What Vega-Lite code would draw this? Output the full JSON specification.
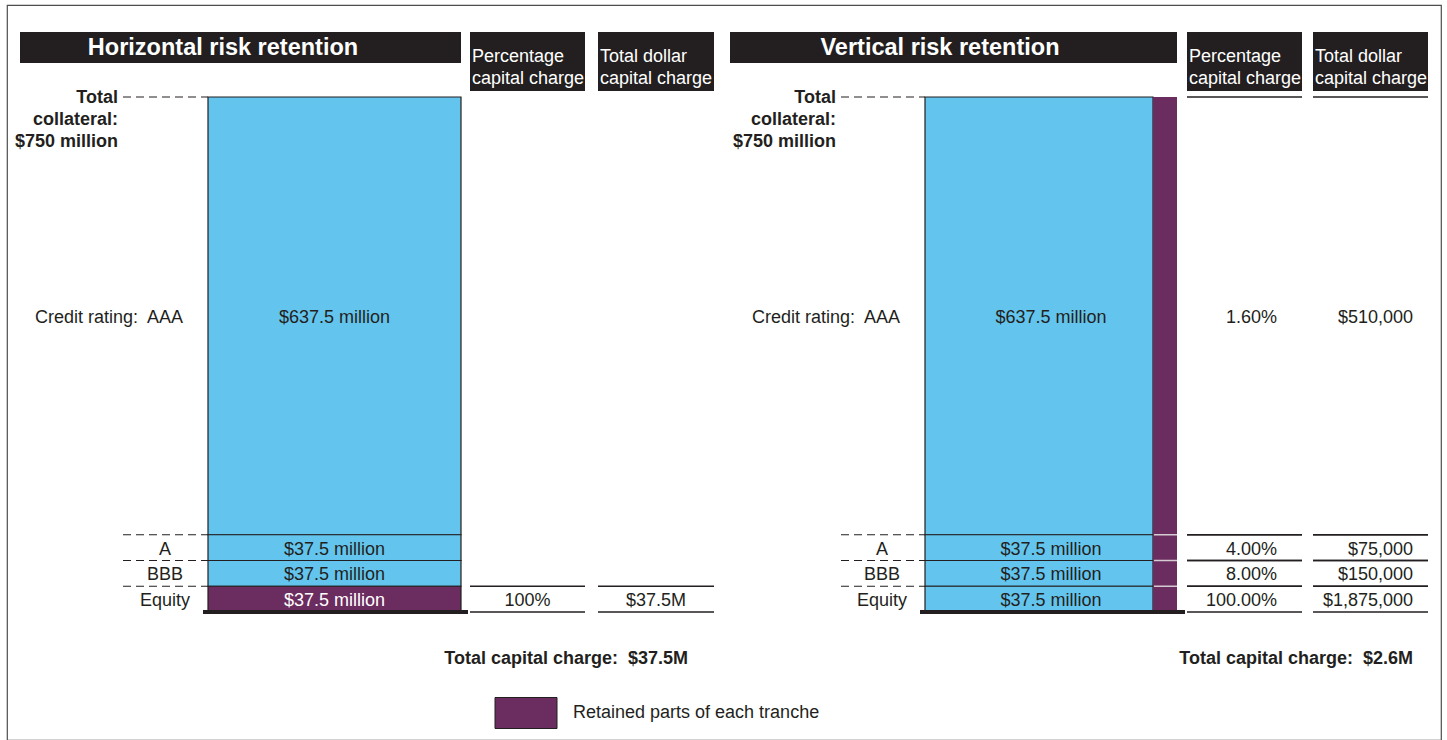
{
  "$schema": "https://vega.github.io/schema/vega-lite/v6.json",
  "width": 1447,
  "height": 740,
  "autosize": {"type": "fit", "contains": "padding"},
  "padding": {"left": 7, "top": 5, "right": 6, "bottom": 0},
  "background": "white",
  "config": {
    "view": {"stroke": "#4d4d4d", "strokeWidth": 1.2},
    "axis": {"disable": true},
    "font": "Liberation Sans",
    "text": {"font": "Liberation Sans", "lineBreak": "\n", "color": "#231f20"}
  },
  "datasets": {
    "tranches": [
      {"panel": "Horizontal risk retention", "tranche": "AAA", "seniority": 4, "label": "Credit rating:\u00a0 AAA", "amount": 637.5, "amountLabel": "$637.5 million", "holder": "Held by investors", "pct": null, "dollar": null},
      {"panel": "Horizontal risk retention", "tranche": "A", "seniority": 3, "label": "A", "amount": 37.5, "amountLabel": "$37.5 million", "holder": "Held by investors", "pct": null, "dollar": null},
      {"panel": "Horizontal risk retention", "tranche": "BBB", "seniority": 2, "label": "BBB", "amount": 37.5, "amountLabel": "$37.5 million", "holder": "Held by investors", "pct": null, "dollar": null},
      {"panel": "Horizontal risk retention", "tranche": "Equity", "seniority": 1, "label": "Equity", "amount": 37.5, "amountLabel": "$37.5 million", "holder": "Retained parts of each tranche", "pct": "100%", "dollar": "$37.5M"},
      {"panel": "Vertical risk retention", "tranche": "AAA", "seniority": 4, "label": "Credit rating:\u00a0 AAA", "amount": 637.5, "amountLabel": "$637.5 million", "holder": "Held by investors", "pct": "1.60%", "dollar": "$510,000"},
      {"panel": "Vertical risk retention", "tranche": "A", "seniority": 3, "label": "A", "amount": 37.5, "amountLabel": "$37.5 million", "holder": "Held by investors", "pct": "4.00%", "dollar": "$75,000"},
      {"panel": "Vertical risk retention", "tranche": "BBB", "seniority": 2, "label": "BBB", "amount": 37.5, "amountLabel": "$37.5 million", "holder": "Held by investors", "pct": "8.00%", "dollar": "$150,000"},
      {"panel": "Vertical risk retention", "tranche": "Equity", "seniority": 1, "label": "Equity", "amount": 37.5, "amountLabel": "$37.5 million", "holder": "Held by investors", "pct": "100.00%", "dollar": "$1,875,000"}
    ],
    "panels": [
      {"panel": "Horizontal risk retention", "pctHeader": "Percentage\ncapital charge", "dollarHeader": "Total dollar\ncapital charge", "collateral": "Total\ncollateral:\n$750 million", "total": "Total capital charge:\u00a0 $37.5M"},
      {"panel": "Vertical risk retention", "pctHeader": "Percentage\ncapital charge", "dollarHeader": "Total dollar\ncapital charge", "collateral": "Total\ncollateral:\n$750 million", "total": "Total capital charge:\u00a0 $2.6M"}
    ]
  },
  "layer": [
    {"data": {"name": "panels"}, "transform": [{"filter": "datum.panel === 'Horizontal risk retention'"}],
     "mark": {"type": "rect", "color": "#231f20"},
     "encoding": {"x": {"datum": 20, "type": "quantitative", "scale": {"domain": [7, 1441], "nice": false, "zero": false}}, "x2": {"datum": 461},
                  "y": {"datum": 844.66, "type": "quantitative", "scale": {"domain": [-186.408, 883.98], "nice": false, "zero": false}}, "y2": {"datum": 799.51}}},
    {"data": {"name": "panels"}, "transform": [{"filter": "datum.panel === 'Horizontal risk retention'"}],
     "mark": {"type": "rect", "color": "#231f20"},
     "encoding": {"x": {"datum": 470, "type": "quantitative"}, "x2": {"datum": 585}, "y": {"datum": 844.66, "type": "quantitative"}, "y2": {"datum": 758.74}}},
    {"data": {"name": "panels"}, "transform": [{"filter": "datum.panel === 'Horizontal risk retention'"}],
     "mark": {"type": "rect", "color": "#231f20"},
     "encoding": {"x": {"datum": 598, "type": "quantitative"}, "x2": {"datum": 714}, "y": {"datum": 844.66, "type": "quantitative"}, "y2": {"datum": 758.74}}},
    {"data": {"name": "panels"}, "transform": [{"filter": "datum.panel === 'Horizontal risk retention'"}],
     "mark": {"type": "text", "color": "white", "fontSize": 23.5, "fontWeight": "bold", "align": "center", "baseline": "middle"},
     "encoding": {"x": {"datum": 223, "type": "quantitative"}, "y": {"datum": 821.5, "type": "quantitative"}, "text": {"field": "panel"}}},
    {"data": {"name": "panels"}, "transform": [{"filter": "datum.panel === 'Horizontal risk retention'"}],
     "mark": {"type": "text", "color": "white", "fontSize": 18, "lineHeight": 22, "align": "left", "baseline": "top"},
     "encoding": {"x": {"datum": 472, "type": "quantitative"}, "y": {"datum": 821.36, "type": "quantitative"}, "text": {"field": "pctHeader"}}},
    {"data": {"name": "panels"}, "transform": [{"filter": "datum.panel === 'Horizontal risk retention'"}],
     "mark": {"type": "text", "color": "white", "fontSize": 18, "lineHeight": 22, "align": "left", "baseline": "top"},
     "encoding": {"x": {"datum": 600, "type": "quantitative"}, "y": {"datum": 821.36, "type": "quantitative"}, "text": {"field": "dollarHeader"}}},
    {"data": {"name": "panels"}, "transform": [{"filter": "datum.panel === 'Horizontal risk retention'"}],
     "mark": {"type": "text", "fontSize": 18, "fontWeight": "bold", "lineHeight": 22, "align": "right", "baseline": "top"},
     "encoding": {"x": {"datum": 118, "type": "quantitative"}, "y": {"datum": 761.65, "type": "quantitative"}, "text": {"field": "collateral"}}},
    {"data": {"name": "panels"}, "transform": [{"filter": "datum.panel === 'Horizontal risk retention'"}],
     "mark": {"type": "text", "fontSize": 18, "fontWeight": "bold", "align": "right", "baseline": "middle"},
     "encoding": {"x": {"datum": 688, "type": "quantitative"}, "y": {"datum": -68.9, "type": "quantitative"}, "text": {"field": "total"}}},

    {"data": {"name": "panels"}, "transform": [{"filter": "datum.panel === 'Vertical risk retention'"}],
     "mark": {"type": "rect", "color": "#231f20"},
     "encoding": {"x": {"datum": 730, "type": "quantitative"}, "x2": {"datum": 1177}, "y": {"datum": 844.66, "type": "quantitative"}, "y2": {"datum": 799.51}}},
    {"data": {"name": "panels"}, "transform": [{"filter": "datum.panel === 'Vertical risk retention'"}],
     "mark": {"type": "rect", "color": "#231f20"},
     "encoding": {"x": {"datum": 1187, "type": "quantitative"}, "x2": {"datum": 1302}, "y": {"datum": 844.66, "type": "quantitative"}, "y2": {"datum": 758.74}}},
    {"data": {"name": "panels"}, "transform": [{"filter": "datum.panel === 'Vertical risk retention'"}],
     "mark": {"type": "rect", "color": "#231f20"},
     "encoding": {"x": {"datum": 1313, "type": "quantitative"}, "x2": {"datum": 1428}, "y": {"datum": 844.66, "type": "quantitative"}, "y2": {"datum": 758.74}}},
    {"data": {"name": "panels"}, "transform": [{"filter": "datum.panel === 'Vertical risk retention'"}],
     "mark": {"type": "text", "color": "white", "fontSize": 23.5, "fontWeight": "bold", "align": "center", "baseline": "middle"},
     "encoding": {"x": {"datum": 940, "type": "quantitative"}, "y": {"datum": 821.5, "type": "quantitative"}, "text": {"field": "panel"}}},
    {"data": {"name": "panels"}, "transform": [{"filter": "datum.panel === 'Vertical risk retention'"}],
     "mark": {"type": "text", "color": "white", "fontSize": 18, "lineHeight": 22, "align": "left", "baseline": "top"},
     "encoding": {"x": {"datum": 1189, "type": "quantitative"}, "y": {"datum": 821.36, "type": "quantitative"}, "text": {"field": "pctHeader"}}},
    {"data": {"name": "panels"}, "transform": [{"filter": "datum.panel === 'Vertical risk retention'"}],
     "mark": {"type": "text", "color": "white", "fontSize": 18, "lineHeight": 22, "align": "left", "baseline": "top"},
     "encoding": {"x": {"datum": 1315, "type": "quantitative"}, "y": {"datum": 821.36, "type": "quantitative"}, "text": {"field": "dollarHeader"}}},
    {"data": {"name": "panels"}, "transform": [{"filter": "datum.panel === 'Vertical risk retention'"}],
     "mark": {"type": "text", "fontSize": 18, "fontWeight": "bold", "lineHeight": 22, "align": "right", "baseline": "top"},
     "encoding": {"x": {"datum": 836, "type": "quantitative"}, "y": {"datum": 761.65, "type": "quantitative"}, "text": {"field": "collateral"}}},
    {"data": {"name": "panels"}, "transform": [{"filter": "datum.panel === 'Vertical risk retention'"}],
     "mark": {"type": "text", "fontSize": 18, "fontWeight": "bold", "align": "right", "baseline": "middle"},
     "encoding": {"x": {"datum": 1413, "type": "quantitative"}, "y": {"datum": -68.9, "type": "quantitative"}, "text": {"field": "total"}}},

    {"data": {"name": "tranches"},
     "transform": [{"stack": "amount", "groupby": ["panel"], "sort": [{"field": "seniority", "order": "ascending"}], "as": ["lo", "hi"]}, {"filter": "datum.panel === 'Horizontal risk retention'"}],
     "mark": {"type": "rect", "stroke": "#231f20", "strokeWidth": 1.2},
     "encoding": {"x": {"datum": 208, "type": "quantitative"}, "x2": {"datum": 461},
                  "y": {"field": "lo", "type": "quantitative"}, "y2": {"field": "hi"},
                  "color": {"field": "holder", "type": "nominal",
                            "scale": {"domain": ["Held by investors", "Retained parts of each tranche"], "range": ["#63c5ee", "#6b2c5f"]},
                            "legend": {"values": ["Retained parts of each tranche"], "title": null, "orient": "none", "legendX": 487.5, "legendY": 676.5,
                                       "symbolType": "M-1,-0.5H1V0.5H-1Z", "symbolSize": 3844, "symbolStrokeColor": "#231f20", "symbolStrokeWidth": 1, "symbolOpacity": 1,
                                       "labelFontSize": 18, "labelFont": "Liberation Sans", "labelColor": "#231f20", "labelOffset": 15.5, "labelLimit": 400}}}},
    {"data": {"name": "tranches"},
     "transform": [{"stack": "amount", "groupby": ["panel"], "sort": [{"field": "seniority", "order": "ascending"}], "as": ["lo", "hi"]}, {"filter": "datum.panel === 'Horizontal risk retention'"},
                   {"fold": ["lo", "hi"], "as": ["edge", "level"]}, {"aggregate": [{"op": "mean", "field": "level", "as": "mid"}], "groupby": ["panel", "seniority", "amountLabel", "holder"]}],
     "mark": {"type": "text", "fontSize": 18, "align": "center", "baseline": "middle", "dy": 2},
     "encoding": {"x": {"datum": 334.5, "type": "quantitative"}, "y": {"field": "mid", "type": "quantitative"}, "text": {"field": "amountLabel"},
                  "color": {"condition": {"test": "datum.holder === 'Retained parts of each tranche'", "value": "#ffffff"}, "value": "#231f20"}}},
    {"data": {"name": "tranches"},
     "transform": [{"stack": "amount", "groupby": ["panel"], "sort": [{"field": "seniority", "order": "ascending"}], "as": ["lo", "hi"]}, {"filter": "datum.panel === 'Horizontal risk retention'"}],
     "mark": {"type": "rule", "color": "#231f20", "strokeWidth": 1.2, "strokeDash": [8, 5]},
     "encoding": {"x": {"datum": 123, "type": "quantitative"}, "x2": {"datum": 208}, "y": {"field": "hi", "type": "quantitative"}}},
    {"data": {"name": "tranches"},
     "transform": [{"stack": "amount", "groupby": ["panel"], "sort": [{"field": "seniority", "order": "ascending"}], "as": ["lo", "hi"]}, {"filter": "datum.panel === 'Horizontal risk retention' && datum.seniority === 4"},
                   {"fold": ["lo", "hi"], "as": ["edge", "level"]}, {"aggregate": [{"op": "mean", "field": "level", "as": "mid"}], "groupby": ["panel", "seniority", "label"]}],
     "mark": {"type": "text", "fontSize": 18, "align": "right", "baseline": "middle", "dy": 2},
     "encoding": {"x": {"datum": 183, "type": "quantitative"}, "y": {"field": "mid", "type": "quantitative"}, "text": {"field": "label"}}},
    {"data": {"name": "tranches"},
     "transform": [{"stack": "amount", "groupby": ["panel"], "sort": [{"field": "seniority", "order": "ascending"}], "as": ["lo", "hi"]}, {"filter": "datum.panel === 'Horizontal risk retention' && datum.seniority < 4"},
                   {"fold": ["lo", "hi"], "as": ["edge", "level"]}, {"aggregate": [{"op": "mean", "field": "level", "as": "mid"}], "groupby": ["panel", "seniority", "label"]}],
     "mark": {"type": "text", "fontSize": 18, "align": "center", "baseline": "middle", "dy": 2},
     "encoding": {"x": {"datum": 165, "type": "quantitative"}, "y": {"field": "mid", "type": "quantitative"}, "text": {"field": "label"}}},
    {"data": {"name": "tranches"},
     "transform": [{"stack": "amount", "groupby": ["panel"], "sort": [{"field": "seniority", "order": "ascending"}], "as": ["lo", "hi"]}, {"filter": "datum.panel === 'Horizontal risk retention' && datum.seniority === 1"}],
     "mark": {"type": "rule", "color": "#231f20", "strokeWidth": 4},
     "encoding": {"x": {"datum": 203, "type": "quantitative"}, "x2": {"datum": 468}, "y": {"field": "lo", "type": "quantitative"}}},
    {"data": {"name": "tranches"},
     "transform": [{"stack": "amount", "groupby": ["panel"], "sort": [{"field": "seniority", "order": "ascending"}], "as": ["lo", "hi"]}, {"filter": "datum.panel === 'Horizontal risk retention' && isValid(datum.pct)"}, {"fold": ["lo", "hi"], "as": ["edge", "level"]}],
     "mark": {"type": "rule", "color": "#231f20", "strokeWidth": 1.3},
     "encoding": {"x": {"datum": 470, "type": "quantitative"}, "x2": {"datum": 585}, "y": {"field": "level", "type": "quantitative"}}},
    {"data": {"name": "tranches"},
     "transform": [{"stack": "amount", "groupby": ["panel"], "sort": [{"field": "seniority", "order": "ascending"}], "as": ["lo", "hi"]}, {"filter": "datum.panel === 'Horizontal risk retention' && isValid(datum.dollar)"}, {"fold": ["lo", "hi"], "as": ["edge", "level"]}],
     "mark": {"type": "rule", "color": "#231f20", "strokeWidth": 1.3},
     "encoding": {"x": {"datum": 598, "type": "quantitative"}, "x2": {"datum": 714}, "y": {"field": "level", "type": "quantitative"}}},
    {"data": {"name": "tranches"},
     "transform": [{"stack": "amount", "groupby": ["panel"], "sort": [{"field": "seniority", "order": "ascending"}], "as": ["lo", "hi"]}, {"filter": "datum.panel === 'Horizontal risk retention' && isValid(datum.pct)"},
                   {"fold": ["lo", "hi"], "as": ["edge", "level"]}, {"aggregate": [{"op": "mean", "field": "level", "as": "mid"}], "groupby": ["panel", "seniority", "pct"]}],
     "mark": {"type": "text", "fontSize": 18, "align": "center", "baseline": "middle", "dy": 2},
     "encoding": {"x": {"datum": 527.5, "type": "quantitative"}, "y": {"field": "mid", "type": "quantitative"}, "text": {"field": "pct"}}},
    {"data": {"name": "tranches"},
     "transform": [{"stack": "amount", "groupby": ["panel"], "sort": [{"field": "seniority", "order": "ascending"}], "as": ["lo", "hi"]}, {"filter": "datum.panel === 'Horizontal risk retention' && isValid(datum.dollar)"},
                   {"fold": ["lo", "hi"], "as": ["edge", "level"]}, {"aggregate": [{"op": "mean", "field": "level", "as": "mid"}], "groupby": ["panel", "seniority", "dollar"]}],
     "mark": {"type": "text", "fontSize": 18, "align": "center", "baseline": "middle", "dy": 2},
     "encoding": {"x": {"datum": 656, "type": "quantitative"}, "y": {"field": "mid", "type": "quantitative"}, "text": {"field": "dollar"}}},

    {"data": {"name": "tranches"},
     "transform": [{"stack": "amount", "groupby": ["panel"], "sort": [{"field": "seniority", "order": "ascending"}], "as": ["lo", "hi"]}, {"filter": "datum.panel === 'Vertical risk retention'"}],
     "mark": {"type": "rect", "stroke": "#231f20", "strokeWidth": 1.2},
     "encoding": {"x": {"datum": 925, "type": "quantitative"}, "x2": {"datum": 1153},
                  "y": {"field": "lo", "type": "quantitative"}, "y2": {"field": "hi"},
                  "color": {"field": "holder", "type": "nominal"}}},
    {"data": {"name": "tranches"},
     "transform": [{"stack": "amount", "groupby": ["panel"], "sort": [{"field": "seniority", "order": "ascending"}], "as": ["lo", "hi"]}, {"filter": "datum.panel === 'Vertical risk retention'"}],
     "mark": {"type": "rect"},
     "encoding": {"x": {"datum": 1153, "type": "quantitative"}, "x2": {"datum": 1177},
                  "y": {"field": "lo", "type": "quantitative"}, "y2": {"field": "hi"},
                  "color": {"datum": "Retained parts of each tranche", "type": "nominal"}}},
    {"data": {"name": "tranches"},
     "transform": [{"stack": "amount", "groupby": ["panel"], "sort": [{"field": "seniority", "order": "ascending"}], "as": ["lo", "hi"]}, {"filter": "datum.panel === 'Vertical risk retention' && datum.seniority < 4"}],
     "mark": {"type": "rule", "color": "#d4ccd2", "strokeWidth": 1.5},
     "encoding": {"x": {"datum": 1154, "type": "quantitative"}, "x2": {"datum": 1177}, "y": {"field": "hi", "type": "quantitative"}}},
    {"data": {"name": "tranches"},
     "transform": [{"stack": "amount", "groupby": ["panel"], "sort": [{"field": "seniority", "order": "ascending"}], "as": ["lo", "hi"]}, {"filter": "datum.panel === 'Vertical risk retention'"},
                   {"fold": ["lo", "hi"], "as": ["edge", "level"]}, {"aggregate": [{"op": "mean", "field": "level", "as": "mid"}], "groupby": ["panel", "seniority", "amountLabel", "holder"]}],
     "mark": {"type": "text", "fontSize": 18, "align": "center", "baseline": "middle", "dy": 2},
     "encoding": {"x": {"datum": 1051, "type": "quantitative"}, "y": {"field": "mid", "type": "quantitative"}, "text": {"field": "amountLabel"},
                  "color": {"condition": {"test": "datum.holder === 'Retained parts of each tranche'", "value": "#ffffff"}, "value": "#231f20"}}},
    {"data": {"name": "tranches"},
     "transform": [{"stack": "amount", "groupby": ["panel"], "sort": [{"field": "seniority", "order": "ascending"}], "as": ["lo", "hi"]}, {"filter": "datum.panel === 'Vertical risk retention'"}],
     "mark": {"type": "rule", "color": "#231f20", "strokeWidth": 1.2, "strokeDash": [8, 5]},
     "encoding": {"x": {"datum": 841, "type": "quantitative"}, "x2": {"datum": 925}, "y": {"field": "hi", "type": "quantitative"}}},
    {"data": {"name": "tranches"},
     "transform": [{"stack": "amount", "groupby": ["panel"], "sort": [{"field": "seniority", "order": "ascending"}], "as": ["lo", "hi"]}, {"filter": "datum.panel === 'Vertical risk retention' && datum.seniority === 4"},
                   {"fold": ["lo", "hi"], "as": ["edge", "level"]}, {"aggregate": [{"op": "mean", "field": "level", "as": "mid"}], "groupby": ["panel", "seniority", "label"]}],
     "mark": {"type": "text", "fontSize": 18, "align": "right", "baseline": "middle", "dy": 2},
     "encoding": {"x": {"datum": 900, "type": "quantitative"}, "y": {"field": "mid", "type": "quantitative"}, "text": {"field": "label"}}},
    {"data": {"name": "tranches"},
     "transform": [{"stack": "amount", "groupby": ["panel"], "sort": [{"field": "seniority", "order": "ascending"}], "as": ["lo", "hi"]}, {"filter": "datum.panel === 'Vertical risk retention' && datum.seniority < 4"},
                   {"fold": ["lo", "hi"], "as": ["edge", "level"]}, {"aggregate": [{"op": "mean", "field": "level", "as": "mid"}], "groupby": ["panel", "seniority", "label"]}],
     "mark": {"type": "text", "fontSize": 18, "align": "center", "baseline": "middle", "dy": 2},
     "encoding": {"x": {"datum": 882, "type": "quantitative"}, "y": {"field": "mid", "type": "quantitative"}, "text": {"field": "label"}}},
    {"data": {"name": "tranches"},
     "transform": [{"stack": "amount", "groupby": ["panel"], "sort": [{"field": "seniority", "order": "ascending"}], "as": ["lo", "hi"]}, {"filter": "datum.panel === 'Vertical risk retention' && datum.seniority === 1"}],
     "mark": {"type": "rule", "color": "#231f20", "strokeWidth": 4},
     "encoding": {"x": {"datum": 920, "type": "quantitative"}, "x2": {"datum": 1185}, "y": {"field": "lo", "type": "quantitative"}}},
    {"data": {"name": "tranches"},
     "transform": [{"stack": "amount", "groupby": ["panel"], "sort": [{"field": "seniority", "order": "ascending"}], "as": ["lo", "hi"]}, {"filter": "datum.panel === 'Vertical risk retention' && isValid(datum.pct)"}, {"fold": ["lo", "hi"], "as": ["edge", "level"]}],
     "mark": {"type": "rule", "color": "#231f20", "strokeWidth": 1.3},
     "encoding": {"x": {"datum": 1187, "type": "quantitative"}, "x2": {"datum": 1302}, "y": {"field": "level", "type": "quantitative"}}},
    {"data": {"name": "tranches"},
     "transform": [{"stack": "amount", "groupby": ["panel"], "sort": [{"field": "seniority", "order": "ascending"}], "as": ["lo", "hi"]}, {"filter": "datum.panel === 'Vertical risk retention' && isValid(datum.dollar)"}, {"fold": ["lo", "hi"], "as": ["edge", "level"]}],
     "mark": {"type": "rule", "color": "#231f20", "strokeWidth": 1.3},
     "encoding": {"x": {"datum": 1313, "type": "quantitative"}, "x2": {"datum": 1428}, "y": {"field": "level", "type": "quantitative"}}},
    {"data": {"name": "tranches"},
     "transform": [{"stack": "amount", "groupby": ["panel"], "sort": [{"field": "seniority", "order": "ascending"}], "as": ["lo", "hi"]}, {"filter": "datum.panel === 'Vertical risk retention' && isValid(datum.pct)"},
                   {"fold": ["lo", "hi"], "as": ["edge", "level"]}, {"aggregate": [{"op": "mean", "field": "level", "as": "mid"}], "groupby": ["panel", "seniority", "pct"]}],
     "mark": {"type": "text", "fontSize": 18, "align": "right", "baseline": "middle", "dy": 2},
     "encoding": {"x": {"datum": 1277, "type": "quantitative"}, "y": {"field": "mid", "type": "quantitative"}, "text": {"field": "pct"}}},
    {"data": {"name": "tranches"},
     "transform": [{"stack": "amount", "groupby": ["panel"], "sort": [{"field": "seniority", "order": "ascending"}], "as": ["lo", "hi"]}, {"filter": "datum.panel === 'Vertical risk retention' && isValid(datum.dollar)"},
                   {"fold": ["lo", "hi"], "as": ["edge", "level"]}, {"aggregate": [{"op": "mean", "field": "level", "as": "mid"}], "groupby": ["panel", "seniority", "dollar"]}],
     "mark": {"type": "text", "fontSize": 18, "align": "right", "baseline": "middle", "dy": 2},
     "encoding": {"x": {"datum": 1413, "type": "quantitative"}, "y": {"field": "mid", "type": "quantitative"}, "text": {"field": "dollar"}}}
  ]
}
